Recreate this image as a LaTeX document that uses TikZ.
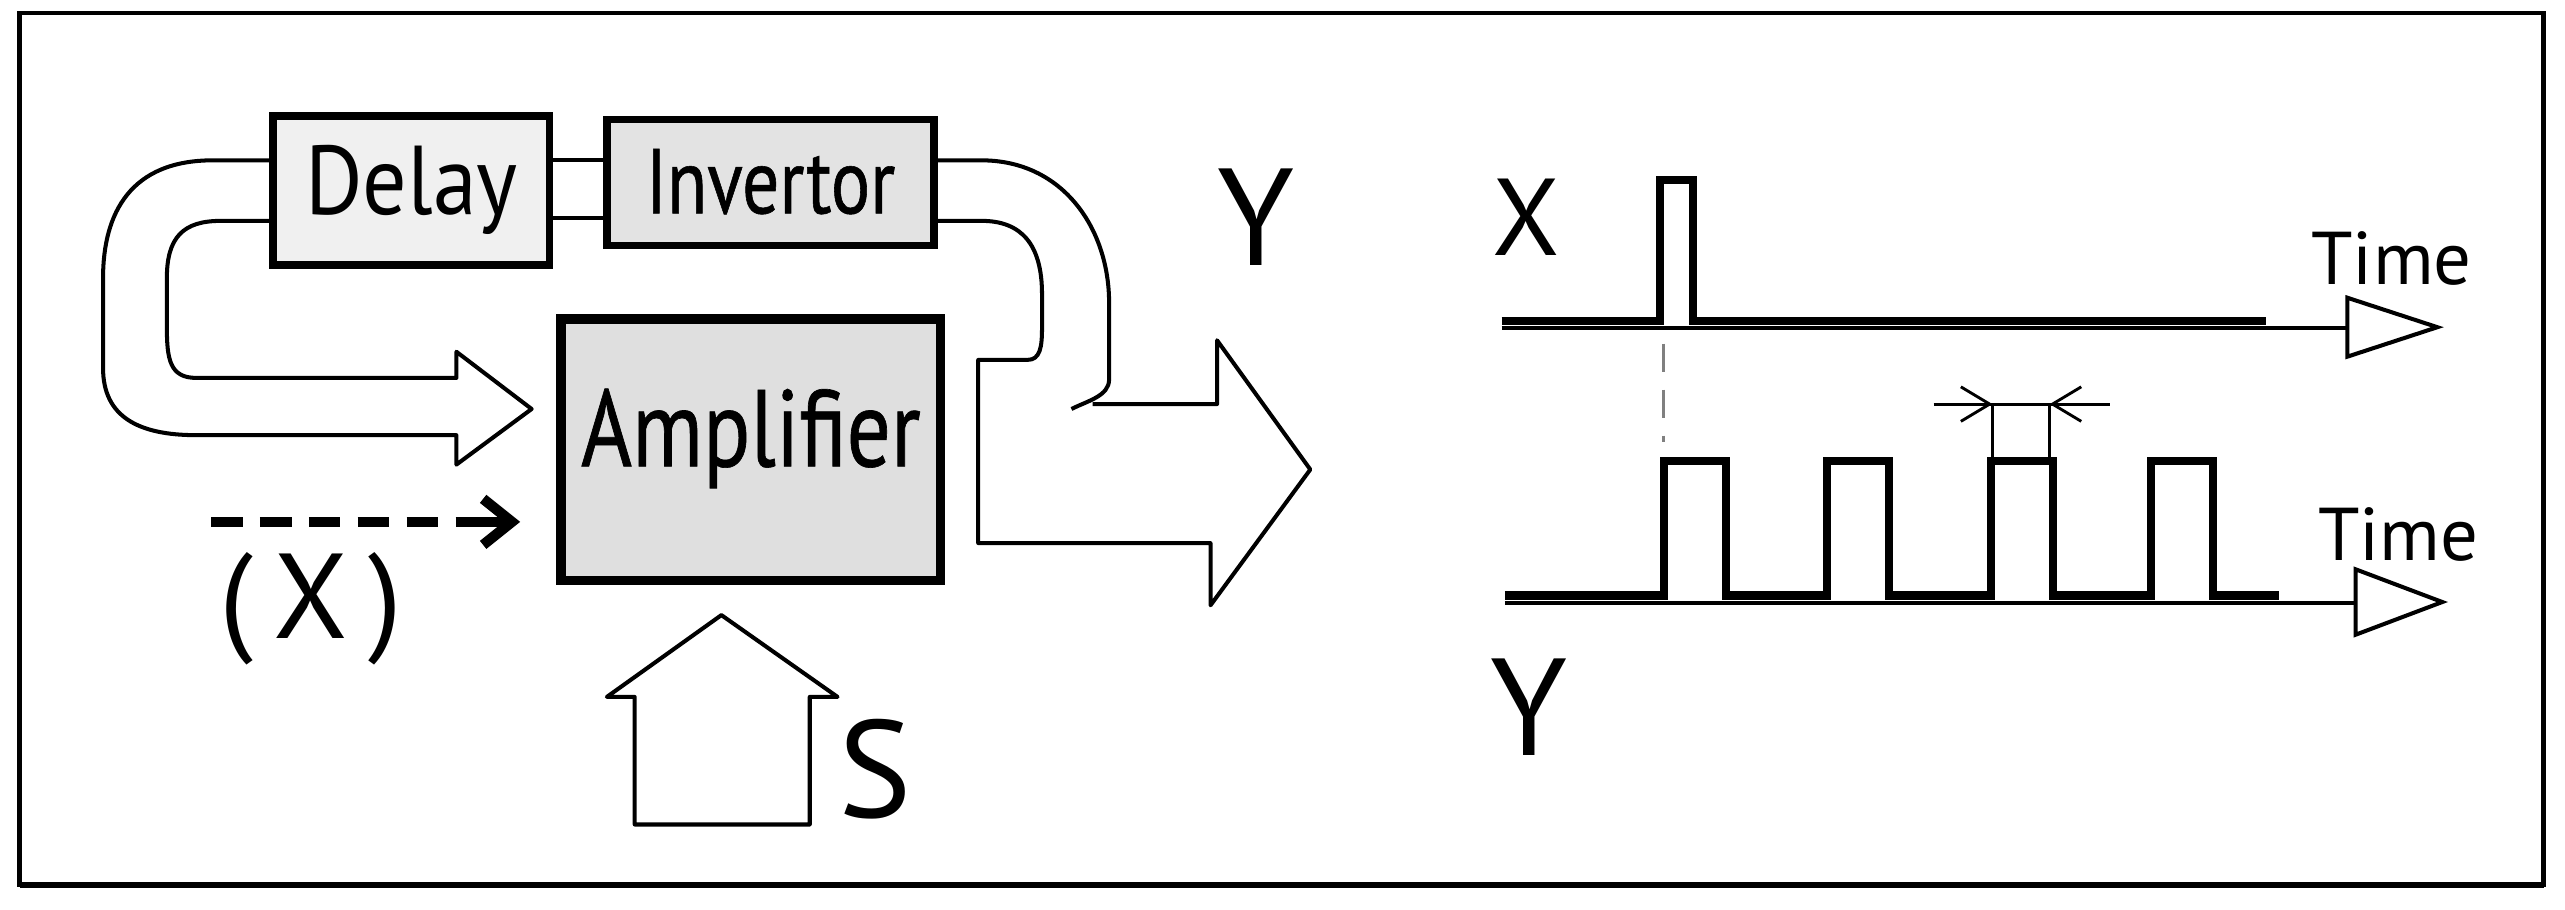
\documentclass[tikz,border=0pt]{standalone}
\usepackage{fontspec}
\setmainfont{PT Sans}
\usetikzlibrary{arrows.meta}
\begin{document}
\begin{tikzpicture}[x=0.01cm,y=-0.01cm,
  box/.style={draw,line width=1.3pt},
  outl/.style={line width=0.7pt,line join=round},
  sig/.style={line width=1.4pt},
  lbl/.style={inner sep=0pt,font=\fontsize{#1}{#1}\selectfont},
  lbl/.default=14]
\useasboundingbox (0,0) rectangle (1568,556);
\draw[line width=0.8pt] (12,8) rectangle (1555,541);
\draw[line width=1.2pt] (12,541) -- (1555,541);
% boxes
\draw[box,fill=gray!12] (167,71) rectangle (336,162);
\node[lbl=17] (dl) at (251.5,116) {\addfontfeature{FakeStretch=0.9}Delay};
\draw[box,fill=gray!22] (371,73) rectangle (571,150);
\node[lbl=16] (inv) at (471,111) {\addfontfeature{FakeStretch=0.8,FakeBold=0.6}Invertor};
\draw[box,fill=gray!25,line width=1.6pt] (343,195) rectangle (575,355);
\node[lbl=19] (amp) at (459,268) {\addfontfeature{FakeStretch=0.8,FakeBold=0.6}Amplifier};
% links between delay and invertor
\draw[outl] (336,98) -- (371,98) (336,133) -- (371,133);
% left feedback arrow
\draw[outl] (167,98) -- (130,98) .. controls (80,98) and (63,130) .. (63,170)
  -- (63,225) .. controls (63,255) and (85,266) .. (120,266) -- (279,266) -- (279,284)
  -- (325,250) -- (279,215) -- (279,231) -- (120,231)
  .. controls (104,231) and (102,220) .. (102,200) -- (102,170)
  .. controls (102,145) and (112,135) .. (135,135) -- (167,135);
% right output arrow
\draw[outl] (571,98) -- (600,98) .. controls (650,98) and (678,140) .. (678,185)
  -- (678,232) .. controls (678,242) and (665,245) .. (655,250);
\draw[outl] (668,247) -- (744,247) -- (744,208) -- (801,287) -- (740,370) -- (740,332)
  -- (598,332) -- (598,220) -- (628,220) .. controls (636,220) and (637,212) .. (637,200)
  -- (637,180) .. controls (637,150) and (625,135) .. (600,135) -- (571,135);
% dashed input
\coordinate (xs) at (129,319);
\coordinate (xe) at (318,319);
\draw[line width=1.8pt,dash pattern=on 5.5pt off 3pt] (xs) -- (285,319);
\draw[line width=1.8pt,-{Straight Barb[length=5pt,width=8pt,line width=1.8pt]}] (285,319) -- (xe);
\node[lbl=21] (xl) at (190,372) {(\,X\,)};
% S arrow
\draw[outl] (388,504) -- (388,426) -- (371,426) -- (441,376) -- (512,426) -- (495,426) -- (495,504) -- cycle;
\node[lbl=24] (s) at (535,470) {S};
\node[lbl=24] (y1) at (768,133) {Y};
% waveform X
\node[lbl=19] (xw) at (933,133) {X};
\draw[line width=0.6pt] (918,200.5) -- (1435,200.5);
\draw[line width=0.7pt] (1435,182) -- (1490,200) -- (1435,218) -- cycle;
\draw[sig] (918,196) -- (1015,196) -- (1015,110) -- (1035,110) -- (1035,196) -- (1385,196);
\node[lbl=13] (t1) at (1462,158) {Time};
\draw[gray,line width=0.6pt,dash pattern=on 5pt off 3pt] (1017,210) -- (1017,270);
% waveform Y
\draw[line width=0.6pt] (920,368.5) -- (1440,368.5);
\draw[line width=0.7pt] (1440,348) -- (1493,368) -- (1440,388) -- cycle;
\draw[sig] (920,364) -- (1017,364) -- (1017,282) -- (1055,282) -- (1055,364)
  -- (1117,364) -- (1117,282) -- (1155,282) -- (1155,364)
  -- (1217,364) -- (1217,282) -- (1255,282) -- (1255,364)
  -- (1315,364) -- (1315,282) -- (1353,282) -- (1353,364) -- (1393,364);
\node[lbl=13] (t2) at (1466,327) {Time};
\node[lbl=24] (y2) at (935,432) {Y};
% dimension
\draw[line width=0.5pt] (1218,247) -- (1218,282) (1253,247) -- (1253,282) (1182,247) -- (1290,247);
\draw[line width=0.5pt,-{Straight Barb[length=5pt,width=6pt]}] (1185,247) -- (1218,247);
\draw[line width=0.5pt,-{Straight Barb[length=5pt,width=6pt]}] (1288,247) -- (1253,247);
\end{tikzpicture}
\end{document}
